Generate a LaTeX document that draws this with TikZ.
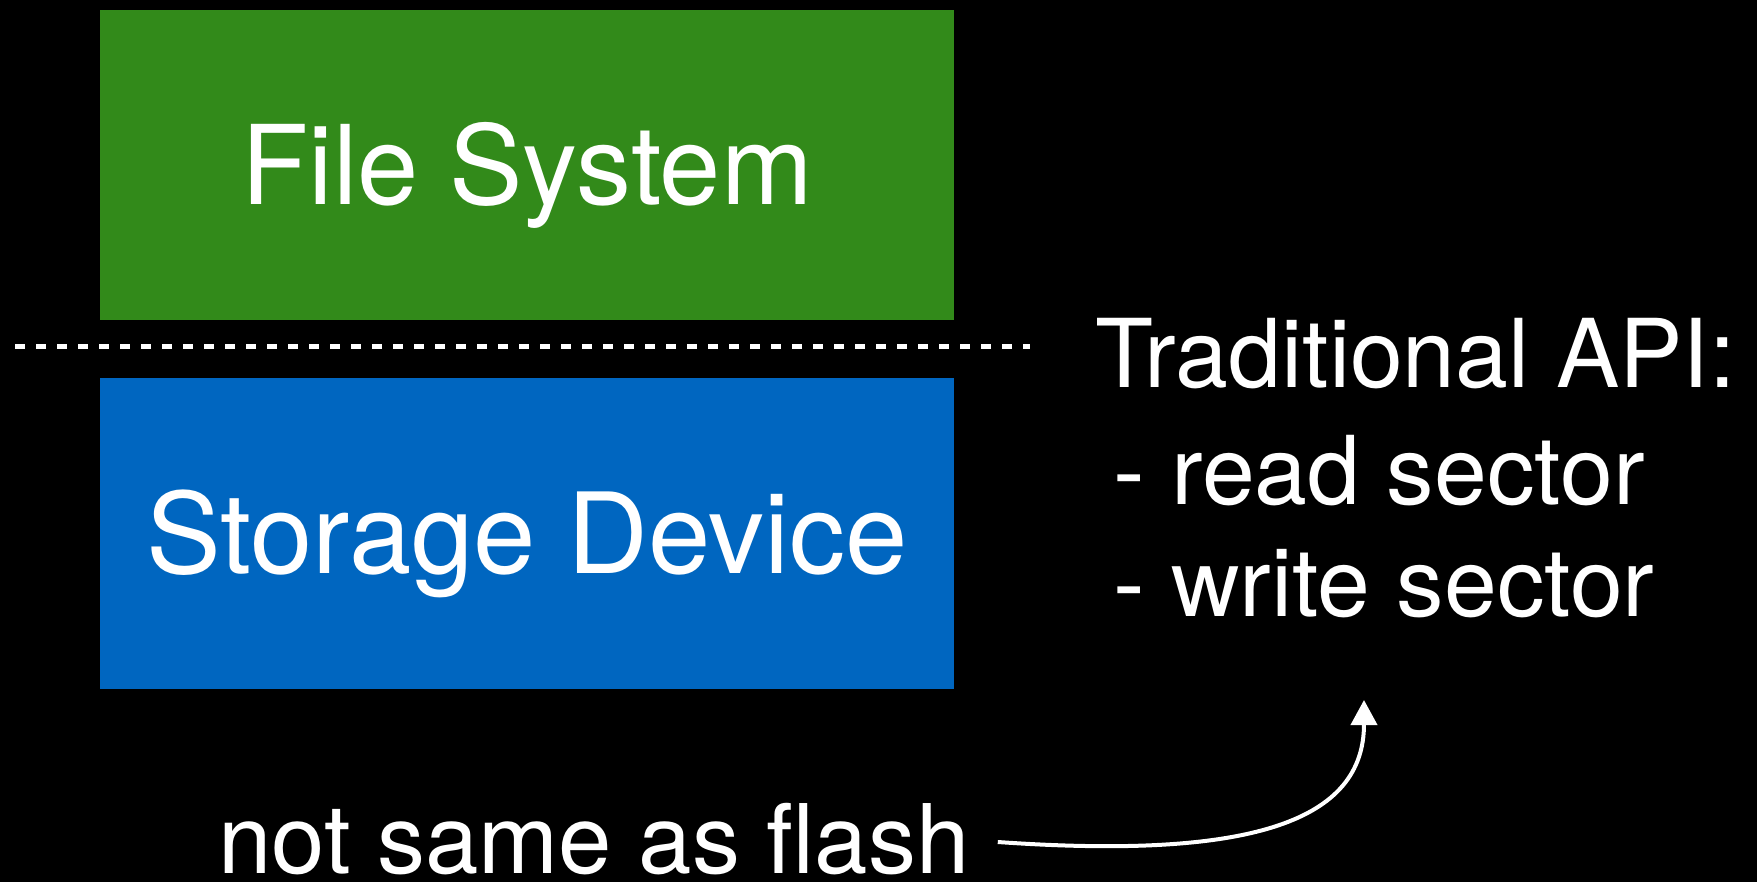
\documentclass[tikz,border=0pt]{standalone}
\usepackage{fontspec}
\setmainfont{TeX Gyre Heros}
\usetikzlibrary{arrows.meta}
\definecolor{fsgreen}{RGB}{50,138,26}
\definecolor{devblue}{RGB}{0,102,192}
\tikzset{
  layerbox/.style={rectangle, inner sep=0pt, minimum width=854pt, minimum height=310pt,
    text=white, font=\fontsize{110}{110}\selectfont, text height=79pt, text depth=0pt},
  apitext/.style={text=white, inner sep=0pt, anchor=base west, font=\fontsize{95}{95}\selectfont},
  note/.style={text=white, inner sep=0pt, anchor=base west, font=\fontsize{96}{96}\selectfont},
  divider/.style={white, line width=5pt, dash pattern=on 10pt off 11pt},
  pointer/.style={white, line width=4pt, -{Triangle[length=25pt, width=26pt]}}
}
\begin{document}
\begin{tikzpicture}[x=1pt, y=-1pt]
  % canvas
  \fill[black] (0,0) rectangle (1757,882);
  \useasboundingbox (0,0) rectangle (1757,882);

  % the two layers
  \node[layerbox, fill=fsgreen] (fs) at (527,165) {File System};
  \node[layerbox, fill=devblue, font=\fontsize{112}{112}\selectfont, text height=80pt] (dev) at (527,533.5) {Storage Device};

  % interface boundary between the layers
  \coordinate (divL) at (15,347);
  \coordinate (divR) at (1030,347);
  \draw[divider] (divL) -- (divR);

  % interface description
  \node[apitext] (api) at (1095,388) {Traditional API:};
  \node[apitext] (rd) at (1113,504) {- read sector};
  \node[apitext] (wr) at (1113,616) {- write sector};

  % remark with pointer
  \node[note] (flash) at (218,873) {not same as flash};
  \coordinate (tip) at (1364,700);
  \coordinate (tail) at ([xshift=28pt, yshift=31pt]flash.base east);
  \draw[pointer] (tail)
    .. controls +(257pt,-18pt) and (1364,820) .. (tip);
\end{tikzpicture}
\end{document}
